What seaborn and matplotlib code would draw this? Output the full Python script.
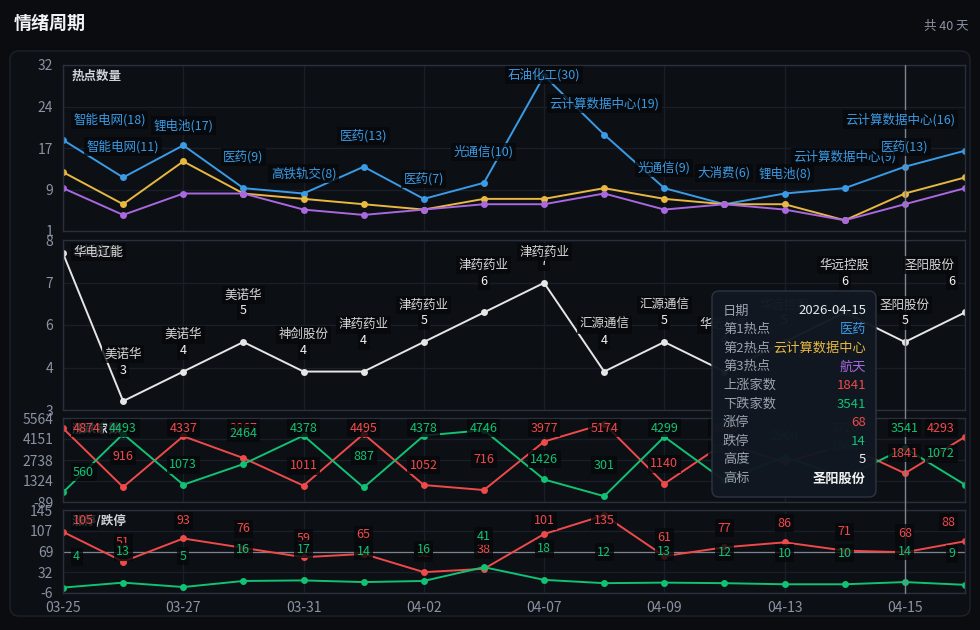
import numpy as np
import pandas as pd
import matplotlib
matplotlib.use("Agg")
import matplotlib.pyplot as plt
import seaborn as sns
from matplotlib.patches import FancyBboxPatch
from matplotlib.lines import Line2D
from matplotlib.transforms import IdentityTransform

# ---- data ----
dates = ["03-25", "03-26", "03-27", "03-30", "03-31", "04-01", "04-02", "04-03",
         "04-07", "04-08", "04-09", "04-10", "04-13", "04-14", "04-15", "04-16"]
hot1_name = ["智能电网", "智能电网", "锂电池", "医药", "高铁轨交", "医药", "医药", "光通信",
             "石油化工", "云计算数据中心", "光通信", "大消费", "锂电池", "云计算数据中心",
             "医药", "云计算数据中心"]
hot1_cnt = [18, 11, 17, 9, 8, 13, 7, 10, 30, 19, 9, 6, 8, 9, 13, 16]
hot2_cnt = [12, 6, 14, 8, 7, 6, 5, 7, 7, 9, 7, 6, 6, 3, 8, 11]
hot3_cnt = [9, 4, 8, 8, 5, 4, 5, 6, 6, 8, 5, 6, 5, 3, 6, 9]
leader = ["华电辽能", "美诺华", "美诺华", "美诺华", "神剑股份", "津药药业", "津药药业", "津药药业",
          "津药药业", "汇源通信", "汇源通信", "华远控股", "华远控股", "华远控股", "圣阳股份", "圣阳股份"]
board_height = [8, 3, 4, 5, 4, 4, 5, 6, 7, 4, 5, 4, 5, 6, 5, 6]
up_count = [4874, 916, 4337, 2867, 1011, 4495, 1052, 716, 3977, 5174, 1140, 3870, 2578, 3726, 1841, 4293]
down_count = [560, 4493, 1073, 2464, 4378, 887, 4378, 4746, 1426, 301, 4299, 1350, 2960, 1566, 3541, 1072]
limit_up = [105, 51, 93, 76, 59, 65, 32, 38, 101, 135, 61, 77, 86, 71, 68, 88]
limit_down = [4, 13, 5, 16, 17, 14, 16, 41, 18, 12, 13, 12, 10, 10, 14, 9]

hover = 14
hover_full_date = "2026-04-15"
hover_hot2 = "云计算数据中心"
hover_hot3 = "航天"
total_days = 40

# ---- colours ----
BG = "#0a0c10"
PANEL = "#0c0f14"
BLUE, YELLOW, PURPLE = "#3a9be6", "#e8b840", "#a968e0"
RED, GREEN, WHITE = "#ef4a4a", "#12c274", "#e6e6e6"
TICK = "#8a93a3"
GRID = "#191e27"
FRAME = "#2a303b"
LBL_BG = "#06080b"

sns.set_style("dark")
plt.rcParams["font.family"] = ["Noto Sans CJK SC", "DejaVu Sans"]
plt.rcParams["axes.unicode_minus"] = False

W, H = 980, 630
fig = plt.figure(figsize=(W / 100, H / 100), dpi=100, facecolor=BG)
px = IdentityTransform()

# outer card
fig.add_artist(FancyBboxPatch((10, H - 616), 960, 565, boxstyle="round,pad=0,rounding_size=9",
                              fc=PANEL, ec="#1d222c", lw=1, transform=px, zorder=-1))
fig.text(14, H - 23, "情绪周期", transform=px, color="#f0f2f5", fontsize=13,
         fontweight="bold", va="center", ha="left")
fig.text(968, H - 26, f"共 {total_days} 天", transform=px, color=TICK, fontsize=9,
         va="center", ha="right")


def panel(top, bottom):
    return fig.add_axes([63 / W, 1 - bottom / H, (965 - 63) / W, (bottom - top) / H])


idx = np.arange(len(dates))


def style(ax, lo, hi, title, show_x=False):
    ax.set_facecolor("none")
    ax.set_xlim(0, len(dates) - 1)
    ax.set_ylim(lo, hi)
    ticks = np.linspace(lo, hi, 5)
    ax.set_yticks(ticks)
    ax.set_yticklabels([str(int(np.floor(t + 0.5))) for t in ticks])
    ax.set_xticks(idx[::2])
    ax.set_xticklabels(dates[::2] if show_x else [])
    ax.tick_params(length=0, colors=TICK, labelsize=10, pad=7)
    ax.grid(True, color=GRID, lw=1)
    for s in ax.spines.values():
        s.set_color(FRAME)
        s.set_linewidth(1)
    ax.set_xlabel("")
    ax.set_ylabel("")
    ax.text(0.01, 1 - 11 / (ax.bbox.height), title, transform=ax.transAxes, color="#d0d4da",
            fontsize=9, fontweight="bold", va="center", ha="left", zorder=1)


def lines(ax, series, palette):
    df = pd.concat([pd.DataFrame({"x": idx, "v": vals, "s": name}) for name, vals in series.items()])
    sns.lineplot(data=df, x="x", y="v", hue="s", palette=palette, marker="o", markersize=5,
                 markeredgewidth=0, lw=1.4, legend=False, ax=ax, sort=False)


renderer = fig.canvas.get_renderer()


def tag(ax, x, y, text, color, lift, top_gap, weight="normal"):
    X, Y = ax.transData.transform((x, y))
    Y += lift
    t = fig.text(X, Y, text, transform=px, color=color, fontsize=9, ha="center", va="center",
                 fontweight=weight, zorder=3,
                 bbox=dict(boxstyle="square,pad=0.2", fc=LBL_BG, ec="none", alpha=0.8))
    box = ax.bbox
    half = t.get_window_extent(renderer).width / 2 + 3
    X = min(max(X, box.x0 + 7 + half), box.x1 - 7 - half)
    Y = min(Y, box.y1 - top_gap)
    t.set_position((X, Y))


# ---- panel 1: hot topic counts ----
ax1 = panel(65, 231)
lines(ax1, {"第1热点": hot1_cnt, "第2热点": hot2_cnt, "第3热点": hot3_cnt},
      {"第1热点": BLUE, "第2热点": YELLOW, "第3热点": PURPLE})
style(ax1, 1, 32, "热点数量")
for i in idx:
    tag(ax1, i, hot1_cnt[i], f"{hot1_name[i]}({hot1_cnt[i]})", BLUE, 31 if i % 2 else 20, 10)

# ---- panel 2: board height ----
ax2 = panel(240, 410)
lines(ax2, {"高度": board_height}, {"高度": WHITE})
style(ax2, 2.7, 8.45, "连板高度")
for i in idx:
    odd = i % 2
    tag(ax2, i, board_height[i], str(board_height[i]), "#f2f2f2", 31 if odd else 21, 12)
    tag(ax2, i, board_height[i], leader[i], "#d8d8d8", 47 if odd else 37, 12)

# ---- panel 3: advancers / decliners ----
ax3 = panel(418, 502)
lines(ax3, {"上涨家数": up_count, "下跌家数": down_count}, {"上涨家数": RED, "下跌家数": GREEN})
style(ax3, -89, 5564, "涨跌家数")
for i in idx:
    lift = 31 if i % 2 else 20
    tag(ax3, i, up_count[i], str(up_count[i]), RED, lift, 10)
    tag(ax3, i, down_count[i], str(down_count[i]), GREEN, lift, 10)

# ---- panel 4: limit up / down ----
ax4 = panel(510, 593)
lines(ax4, {"涨停": limit_up, "跌停": limit_down}, {"涨停": RED, "跌停": GREEN})
style(ax4, -5.8, 144.6, "涨停/跌停", show_x=True)
ax4.tick_params(axis="x", pad=6)
ax4.axhline(limit_up[hover], color="#7d8490", lw=0.9, zorder=1)
for i in idx:
    tag(ax4, i, limit_up[i], str(limit_up[i]), RED, 19, 11)
    tag(ax4, i, limit_down[i], str(limit_down[i]), GREEN, 31, 11)

# ---- crosshair ----
cx = ax1.transData.transform((hover, 0))[0]
fig.add_artist(Line2D([cx, cx], [H - 65, H - 593], transform=px, color="#7d8490", lw=1, zorder=2))

# ---- tooltip ----
fig.add_artist(FancyBboxPatch((712, H - 497), 164, 206, boxstyle="round,pad=0,rounding_size=7",
                              fc="#111822", ec="#2e3644", lw=1, alpha=0.97, transform=px, zorder=10))
rows = [
    ("日期", hover_full_date, "#e8eaed", "normal"),
    ("第1热点", hot1_name[hover], BLUE, "normal"),
    ("第2热点", hover_hot2, YELLOW, "normal"),
    ("第3热点", hover_hot3, PURPLE, "normal"),
    ("上涨家数", str(up_count[hover]), RED, "normal"),
    ("下跌家数", str(down_count[hover]), GREEN, "normal"),
    ("涨停", str(limit_up[hover]), RED, "normal"),
    ("跌停", str(limit_down[hover]), GREEN, "normal"),
    ("高度", str(board_height[hover]), "#f2f2f2", "normal"),
    ("高标", leader[hover], "#f2f2f2", "bold"),
]
for k, (name, val, col, w) in enumerate(rows):
    y = H - (311 + k * 18.6)
    fig.text(723, y, name, transform=px, color="#9aa3b0", fontsize=9.5, ha="left", va="center", zorder=11)
    fig.text(866, y, val, transform=px, color=col, fontsize=9.5, ha="right", va="center",
             fontweight=w, zorder=11)

fig.savefig("out.png", dpi=100, facecolor=BG)
